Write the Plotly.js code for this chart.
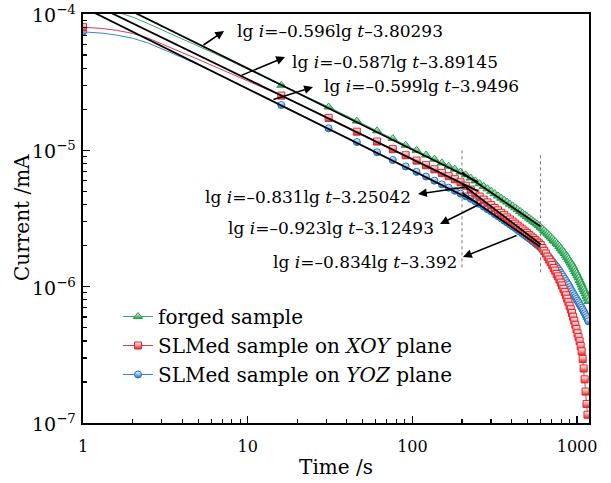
<!DOCTYPE html>
<html>
<head>
<meta charset="utf-8">
<script src="https://cdn.plot.ly/plotly-3.0.1.min.js"></script>
<style>html,body{margin:0;padding:0;background:#fff;}#chart{width:611px;height:483px;}</style>
</head>
<body>
<div id="chart"></div>
<script>
// ---------- data ----------
const timeMarks = [1,16,31,46,61,76,91,106,121,136,151,166,181,196,211,226,241,256,271,286,301,316,331,346,361,376,391,406,421,436,451,466,481,496,511,526,541,556,571,586,601,616,631,646,661,676,691,706,721,736,751,766,781,796,811,826,841,856,871,886,901,916,931,946,961,976,991,1006,1021,1036,1051,1066,1081,1096,1111,1126,1141,1156,1171];

const forgedCurrent = [1.17e-4,3.0e-5,2.08e-5,1.64e-5,1.39e-5,1.22e-5,1.09e-5,1.00e-5,9.24e-6,8.62e-6,8.09e-6,7.65e-6,7.27e-6,6.93e-6,6.61e-6,6.27e-6,5.97e-6,5.69e-6,5.44e-6,5.22e-6,5.01e-6,4.81e-6,4.63e-6,4.46e-6,4.31e-6,4.17e-6,4.03e-6,3.91e-6,3.79e-6,3.67e-6,3.56e-6,3.46e-6,3.36e-6,3.27e-6,3.18e-6,3.10e-6,3.02e-6,2.95e-6,2.88e-6,2.80e-6,2.73e-6,2.65e-6,2.58e-6,2.51e-6,2.44e-6,2.38e-6,2.31e-6,2.25e-6,2.19e-6,2.14e-6,2.08e-6,2.03e-6,1.97e-6,1.91e-6,1.85e-6,1.80e-6,1.75e-6,1.69e-6,1.64e-6,1.59e-6,1.54e-6,1.49e-6,1.44e-6,1.39e-6,1.34e-6,1.29e-6,1.25e-6,1.20e-6,1.16e-6,1.11e-6,1.07e-6,1.03e-6,9.89e-7,9.51e-7,9.20e-7,8.85e-7,8.50e-7,8.15e-7,7.80e-7];

const xoyCurrent = [8.0e-5,2.52e-5,1.73e-5,1.37e-5,1.16e-5,1.02e-5,9.20e-6,8.41e-6,7.78e-6,7.26e-6,6.83e-6,6.46e-6,6.14e-6,5.83e-6,5.50e-6,5.15e-6,4.84e-6,4.58e-6,4.35e-6,4.15e-6,3.96e-6,3.78e-6,3.63e-6,3.48e-6,3.35e-6,3.22e-6,3.11e-6,3.00e-6,2.90e-6,2.80e-6,2.71e-6,2.63e-6,2.54e-6,2.47e-6,2.39e-6,2.33e-6,2.26e-6,2.20e-6,2.14e-6,2.08e-6,2.02e-6,1.92e-6,1.83e-6,1.75e-6,1.66e-6,1.58e-6,1.51e-6,1.44e-6,1.37e-6,1.31e-6,1.24e-6,1.19e-6,1.13e-6,1.07e-6,1.02e-6,9.64e-7,9.12e-7,8.63e-7,8.15e-7,7.69e-7,7.24e-7,6.82e-7,6.41e-7,6.01e-7,5.62e-7,5.25e-7,4.89e-7,4.54e-7,4.27e-7,3.98e-7,3.67e-7,3.35e-7,2.95e-7,2.51e-7,2.09e-7,1.70e-7,1.38e-7,1.15e-7];

const yozCurrent = [7.4e-5,2.15e-5,1.45e-5,1.15e-5,9.68e-6,8.49e-6,7.62e-6,6.95e-6,6.42e-6,5.99e-6,5.63e-6,5.32e-6,5.05e-6,4.81e-6,4.60e-6,4.41e-6,4.22e-6,4.04e-6,3.86e-6,3.70e-6,3.56e-6,3.41e-6,3.29e-6,3.17e-6,3.05e-6,2.95e-6,2.86e-6,2.77e-6,2.69e-6,2.60e-6,2.53e-6,2.45e-6,2.38e-6,2.32e-6,2.26e-6,2.20e-6,2.14e-6,2.08e-6,2.03e-6,1.98e-6,1.93e-6,1.87e-6,1.81e-6,1.75e-6,1.69e-6,1.64e-6,1.59e-6,1.54e-6,1.49e-6,1.44e-6,1.40e-6,1.35e-6,1.31e-6,1.26e-6,1.22e-6,1.18e-6,1.14e-6,1.10e-6,1.06e-6,1.03e-6,9.91e-7,9.57e-7,9.25e-7,8.93e-7,8.65e-7,8.38e-7,8.13e-7,7.89e-7,7.66e-7,7.43e-7,7.21e-7,7.00e-7,6.79e-7,6.59e-7,6.38e-7,6.18e-7,5.98e-7,5.78e-7,5.58e-7];

// extra early-time points of the connecting lines (between markers)
const timeEarly = [1.3,1.6,2,2.5,3.2,4,5,6.3,8,10,12.5];
const forgedEarly = [1.11e-4,1.035e-4,9.5e-5,8.47e-5,7.43e-5,6.59e-5,5.83e-5,5.13e-5,4.48e-5,3.94e-5,3.45e-5];
const xoyEarly = [7.83e-5,7.59e-5,7.21e-5,6.64e-5,5.82e-5,5.21e-5,4.65e-5,4.12e-5,3.63e-5,3.22e-5,2.86e-5];
const yozEarly = [7.24e-5,7.0e-5,6.64e-5,6.11e-5,5.40e-5,4.79e-5,4.24e-5,3.72e-5,3.24e-5,2.84e-5,2.49e-5];

// fitted lines (from the printed equations)
const stage1Slope = [-0.596,-0.587,-0.599];
const stage1Icpt = [-3.80293,-3.89145,-3.9496];
const stage1Span = [1,250];
const stage2Slope = [-0.831,-0.923,-0.834];
const stage2Icpt = [-3.25042,-3.12493,-3.392];
const stage2Span = [200,600];

// dotted boundaries
const boundaryTimes = [200,600];
const boundaryTop = [1.0e-5,9.2e-6];
const boundaryBottom = [1.32e-6,1.22e-6];

const seriesNames = ['forged sample','SLMed sample on <i>XOY</i> plane','SLMed sample on <i>YOZ</i> plane'];
const xTickVals = [1,10,100,1000];
const xTickText = ['1','10','100','1000'];
const yTickVals = [1e-7,1e-6,1e-5,1e-4];
const yTickExp = ['−7','−6','−5','−4'];
const yTitle = 'Current /mA';
const xTitle = 'Time /s';

// ---------- styling ----------
const FONT = 'DejaVu Serif, Liberation Serif, serif';
const colMark = ['#1d9e48','#e8232a','#1f6fc4'];
const colLine = ['#3aab6a','#d6404e','#3487cf'];
const symbols = ['triangle-up','square','circle'];
const sizes = [8,7,7];

function mergeLine(tM, vM, tE, vE){
  const pts = vM.map((v,i)=>[tM[i],v]).concat(vE.map((v,i)=>[tE[i],v]));
  pts.sort((a,b)=>a[0]-b[0]);
  return {x: pts.map(p=>p[0]), y: pts.map(p=>p[1])};
}
const allMarks = [forgedCurrent, xoyCurrent, yozCurrent];
const allEarly = [forgedEarly, xoyEarly, yozEarly];

const traces = [];
for (let k=0;k<3;k++){
  const m = mergeLine(timeMarks, allMarks[k], timeEarly, allEarly[k]);
  traces.push({x:m.x, y:m.y, mode:'lines', line:{color:colLine[k], width:1}, showlegend:false, hoverinfo:'skip'});
}
function markerStyle(k){
  return {symbol:symbols[k], size:sizes[k], color:'#ffffff',
          line:{color:colMark[k], width:1},
          gradient:{type:'vertical', color:colMark[k]}};
}
for (let k=2;k>=0;k--){
  traces.push({x:timeMarks.slice(0, allMarks[k].length), y:allMarks[k], mode:'markers',
    marker:markerStyle(k), showlegend:false});
}
for (let k=0;k<3;k++){
  traces.push({x:stage1Span, y:stage1Span.map(t=>Math.pow(10, stage1Slope[k]*Math.log10(t)+stage1Icpt[k])),
    mode:'lines', line:{color:'#000', width:1.8}, showlegend:false});
  traces.push({x:stage2Span, y:stage2Span.map(t=>Math.pow(10, stage2Slope[k]*Math.log10(t)+stage2Icpt[k])),
    mode:'lines', line:{color:'#000', width:1.8}, showlegend:false});
}
for (let j=0;j<2;j++){
  traces.push({x:[boundaryTimes[j],boundaryTimes[j]], y:[boundaryTop[j],boundaryBottom[j]], mode:'lines',
    line:{color:'#777', width:1, dash:'dot'}, showlegend:false});
}
for (let k=0;k<3;k++){
  traces.push({x:[null], y:[null], mode:'lines+markers', name:seriesNames[k],
    line:{color:colLine[k], width:1}, marker:markerStyle(k), showlegend:true});
}

// ---------- annotations (pixel -> paper helpers) ----------
const L=83, R=589, T=14, B=423;
const px = v => (v-L)/(R-L);
const py = v => (B-v)/(B-T);
const eq = (a,b) => 'lg <i>i</i>=–'+a+'lg <i>t</i>–'+b;
const textAnn = [
  {x:235, y:31, t:eq('0.596','3.80293'), a:'left'},
  {x:290, y:62, t:eq('0.587','3.89145'), a:'left'},
  {x:322, y:86, t:eq('0.599','3.9496'), a:'left'},
  {x:413, y:197, t:eq('0.831','3.25042'), a:'right'},
  {x:436, y:228, t:eq('0.923','3.12493'), a:'right'},
  {x:459, y:262, t:eq('0.834','3.392'), a:'right'}
];
const arrowAnn = [
  {hx:224, hy:31, tx:202, ty:46},
  {hx:285, hy:57, tx:240, ty:76},
  {hx:313, hy:87, tx:272, ty:100},
  {hx:418, hy:194, tx:466, ty:187},
  {hx:440, hy:224, tx:482, ty:203},
  {hx:463, hy:257, tx:518, ty:235}
];
const annotations = [];
textAnn.forEach(a=>annotations.push({xref:'paper', yref:'paper', x:px(a.x), y:py(a.y), text:a.t,
  xanchor:a.a, yanchor:'middle', showarrow:false, font:{family:FONT, size:17, color:'#000'}}));
arrowAnn.forEach(a=>annotations.push({xref:'paper', yref:'paper', x:px(a.hx), y:py(a.hy), text:'',
  showarrow:true, ax:a.tx-a.hx, ay:a.ty-a.hy, arrowhead:2, arrowsize:1.1, arrowwidth:1.6, arrowcolor:'#000', standoff:0}));
annotations.push({xref:'paper', yref:'paper', x:px(22), y:py(218), text:yTitle, textangle:-90,
  showarrow:false, xanchor:'center', yanchor:'middle', font:{family:FONT, size:20, color:'#000'}});
// y tick labels as annotations (10 with superscript exponent)
yTickVals.forEach((v,i)=>annotations.push({xref:'paper', yref:'y', x:px(30), y:Math.log10(v),
  text:'10<sup>'+yTickExp[i]+'</sup>', xanchor:'left', yanchor:'middle', showarrow:false,
  font:{family:FONT, size:19, color:'#000'}}));

function axisBase(){
  return {
    type:'log', showline:true, linecolor:'#000', linewidth:2, mirror:true,
    ticks:'inside', ticklen:7, tickwidth:1.5, tickcolor:'#000', showgrid:false, zeroline:false,
    tickfont:{family:FONT, size:16, color:'#000'},
    minor:{ticks:'inside', ticklen:4, tickwidth:1.2, tickcolor:'#000', dtick:'D1', showgrid:false}
  };
}

const xaxis = axisBase();
Object.assign(xaxis, {range:[0, Math.log10(1181)], tickmode:'array', tickvals:xTickVals, ticktext:xTickText,
  ticklabelstandoff:8, title:{text:xTitle, font:{family:FONT, size:20, color:'#000'}, standoff:5}});
const yaxis = axisBase();
Object.assign(yaxis, {range:[-7,-4], tickmode:'array', tickvals:yTickVals, showticklabels:false});

const layout = {
  width:611, height:483,
  margin:{l:L, r:611-R, t:T, b:483-B},
  paper_bgcolor:'#fff', plot_bgcolor:'#fff',
  font:{family:FONT, color:'#000', size:16},
  xaxis:xaxis, yaxis:yaxis,
  showlegend:true,
  legend:{x:px(118), y:py(297), xanchor:'left', yanchor:'top', bgcolor:'rgba(0,0,0,0)',
    font:{family:FONT, size:20, color:'#000'}},
  annotations:annotations
};

Plotly.newPlot('chart', traces, layout, {displayModeBar:false, staticPlot:true});
</script>
</body>
</html>
